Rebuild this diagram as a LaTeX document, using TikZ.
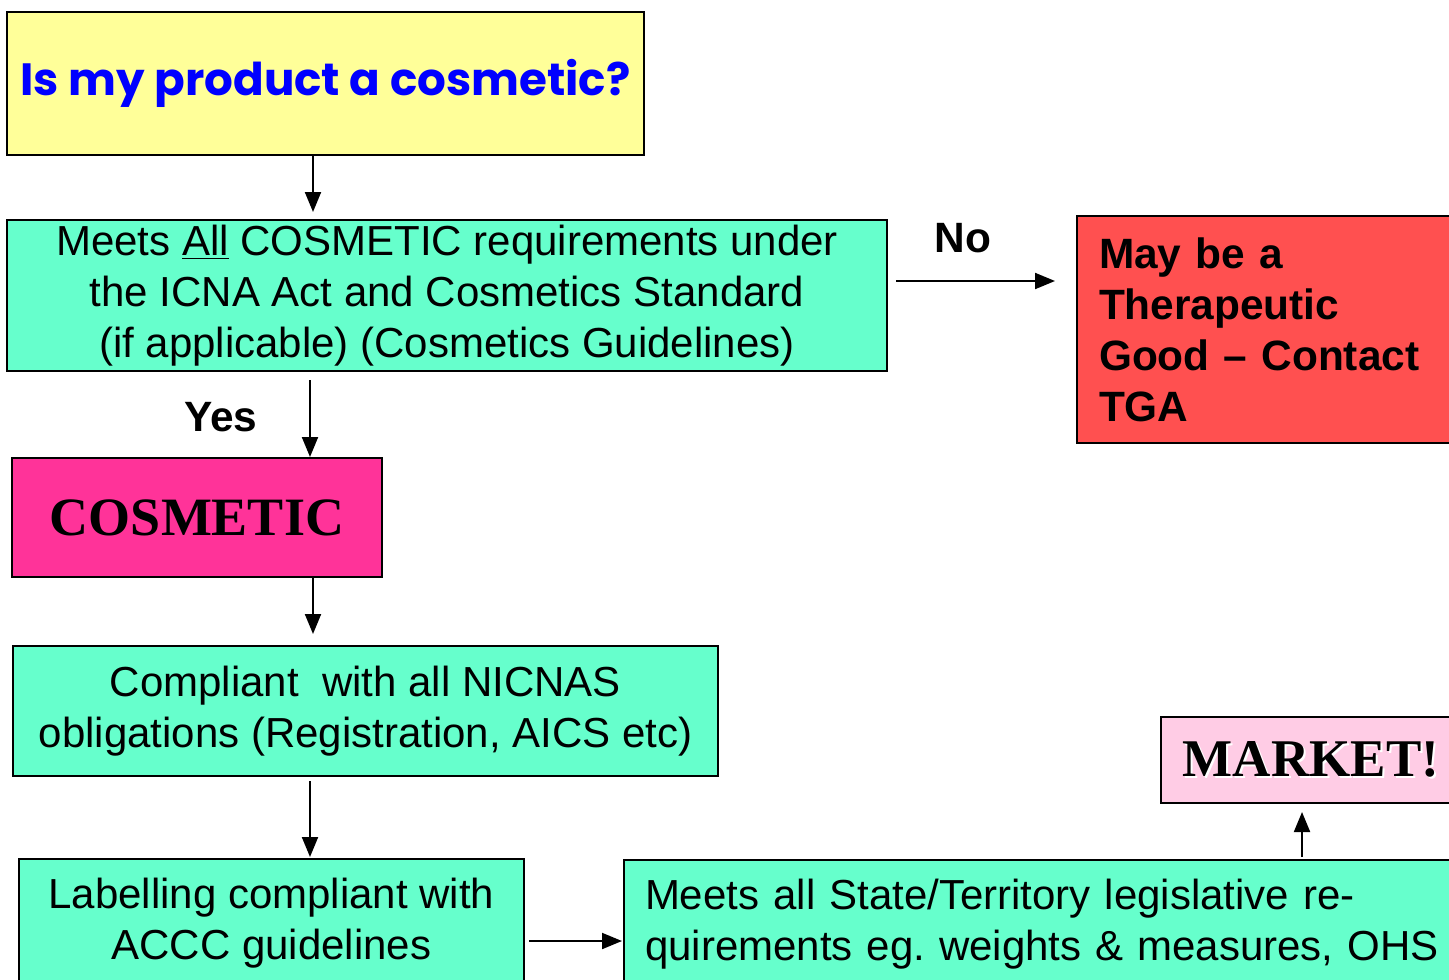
\documentclass[tikz,border=0pt]{standalone}
\usepackage{fontspec}
\setmainfont{Liberation Sans}
\newfontfamily\qfont{Poppins}
\newfontfamily\serifbold{Liberation Serif}
\usetikzlibrary{arrows.meta,calc}
\definecolor{qyellow}{HTML}{FFFF99}
\definecolor{qblue}{HTML}{0000FF}
\definecolor{mint}{HTML}{66FFCC}
\definecolor{tgared}{HTML}{FF5050}
\definecolor{cospink}{HTML}{FF3399}
\definecolor{mktpink}{HTML}{FFCCE5}
\frenchspacing
\begin{document}
\begin{tikzpicture}[x=0.5pt,y=-0.5pt,
  box/.style={draw=black, line width=1pt, inner sep=0pt, anchor=north west},
  arr/.style={-{Triangle[length=10pt,width=8pt]}, line width=1pt},
  body/.style={font=\fontsize{21}{25.5}\selectfont},
  lbl/.style={font=\bfseries\fontsize{21.2}{25.5}\selectfont, inner sep=0pt}]
\useasboundingbox (0,0) rectangle (1449,979);
\clip (0,0) rectangle (1449,979);

\node[box, fill=qyellow, minimum width=318.5pt, minimum height=71.5pt] (q) at (6,11)
  {\qfont\bfseries\color{qblue}\fontsize{22.6}{28}\selectfont Is my product a cosmetic?};

\node[box, fill=mint, minimum width=440pt, minimum height=75.5pt, align=center, body] (b1) at (6,219)
  {Meets \underline{All} COSMETIC requirements under\\the ICNA Act and Cosmetics Standard\\(if applicable) (Cosmetics Guidelines)};

\node[box, fill=tgared, minimum width=195pt, minimum height=113.5pt, text width=173pt, align=left,
  font=\bfseries\fontsize{21.2}{25.5}\selectfont] (tga) at (1076,215)
  {May be a\\Therapeutic\\Good -- Contact\\TGA};

\node[box, fill=cospink, minimum width=185pt, minimum height=59.5pt] (cos) at (11,457)
  {\serifbold\bfseries\fontsize{27}{32}\selectfont COSMETIC};

\node[box, fill=mint, minimum width=352.5pt, minimum height=65pt, align=center, body] (b2) at (12,645)
  {Compliant~ with all NICNAS\\obligations (Registration, AICS etc)};

\node[box, fill=mint, minimum width=252.5pt, minimum height=64pt, align=center, body] (b3) at (18,858)
  {Labelling compliant with\\ACCC guidelines};

\node[box, fill=mint, minimum width=425pt, minimum height=64pt, inner xsep=10.5pt, text width=420pt, align=left, body] (b4) at (623,859)
  {Meets all State/Territory legislative re-\\quirements eg. weights \& measures, OHS};

\node[box, fill=mktpink, minimum width=150pt, minimum height=43pt] (mkt) at (1160,716)
  {\serifbold\bfseries\fontsize{26.5}{30}\selectfont\rlap{\hspace{1pt}\raisebox{-1pt}{\color{white}MARKET!}}MARKET!};

\node[lbl] (no) at (963,238) {No};
\node[lbl] (yes) at (221,417) {Yes};

\draw[arr] ([xshift=153.5pt]q.south west) -- ([xshift=153.5pt,yshift=3.5pt]b1.north west);
\draw[arr] ([xshift=4pt,yshift=-31pt]b1.north east) -- ([xshift=-10.5pt,yshift=-33pt]tga.north west);
\draw[arr] ([xshift=152pt,yshift=-4pt]b1.south west) -- ([xshift=149.5pt]cos.north west);
\draw[arr] ([xshift=151pt]cos.south west) -- ([xshift=150.5pt,yshift=5.5pt]b2.north west);
\draw[arr] ([xshift=149pt,yshift=-2pt]b2.south west) -- ([xshift=146pt,yshift=0.5pt]b3.north west);
\draw[arr] ([xshift=2pt,yshift=-41.5pt]b3.north east) -- ([xshift=-0.5pt,yshift=-41pt]b4.north west);
\draw[arr] ([xshift=339.5pt,yshift=1pt]b4.north west) -- ([xshift=71pt,yshift=-4pt]mkt.south west);
\end{tikzpicture}
\end{document}
